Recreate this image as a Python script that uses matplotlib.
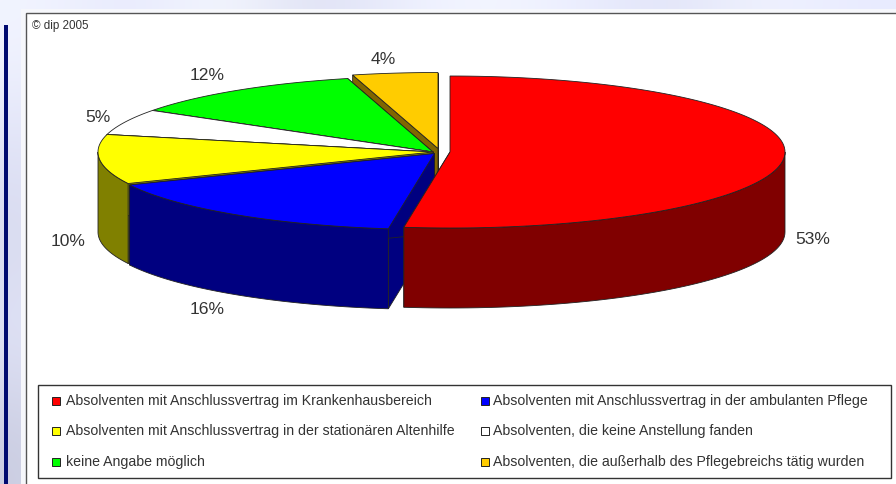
import numpy as np
import matplotlib
matplotlib.use('Agg')
import matplotlib.pyplot as plt
from matplotlib.patches import Polygon, Rectangle

plt.rcParams['font.family'] = ['Liberation Sans', 'DejaVu Sans']

shares = [52.2, 16.0, 10.5, 5.5, 11.7, 4.1]
pct_labels = ['53%', '16%', '10%', '5%', '12%', '4%']
top_colors = ['#ff0000', '#0000ff', '#ffff00', '#ffffff', '#00ff00', '#ffcc00']
side_colors = ['#800000', '#000080', '#808000', '#808080', '#008000', '#806600']
legend_labels = [
    'Absolventen mit Anschlussvertrag im Krankenhausbereich',
    'Absolventen mit Anschlussvertrag in der ambulanten Pflege',
    'Absolventen mit Anschlussvertrag in der stationären Altenhilfe',
    'Absolventen, die keine Anstellung fanden',
    'keine Angabe möglich',
    'Absolventen, die außerhalb des Pflegebreichs tätig wurden',
]

# pie geometry in pixels
rx, ry, depth = 335, 76, 80
centers = [(450, 152), (434.5, 153.5), (433, 152), (433, 152), (433, 152), (438, 148.5)]
label_pos = [(813, 239), (207, 309), (68, 242), (98, 117), (207, 76), (383, 59)]
draw_order = [5, 4, 3, 2, 1, 0]

fig = plt.figure(figsize=(8.96, 4.84), dpi=100)
ax = fig.add_axes([0, 0, 1, 1])

# slide background behind the chart
bg = np.array([[0.95, 0.90, 0.97, 0.86, 0.93, 0.96, 0.92, 0.88, 0.95, 0.91],
               [0.88, 0.90, 0.93, 0.96, 0.88, 0.92, 0.95, 0.90, 0.86, 0.93],
               [0.84, 0.93, 0.88, 0.92, 0.96, 0.87, 0.90, 0.94, 0.92, 0.88],
               [0.88, 0.93, 0.88, 0.92, 0.96, 0.87, 0.90, 0.94, 0.92, 0.88],
               [0.79, 0.93, 0.88, 0.92, 0.96, 0.87, 0.90, 0.94, 0.92, 0.88]])
bg_rgb = np.dstack([bg, bg + 0.01, np.minimum(bg + 0.09, 1)])
ax.imshow(bg_rgb, extent=[0, 896, 484, 0], aspect='auto', interpolation='bicubic', zorder=0)
ax.set_xlim(0, 896)
ax.set_ylim(484, 0)
ax.axis('off')
ax.add_patch(Rectangle((4, 25), 4, 459, fc='#000a70', ec='none', zorder=1))
ax.add_patch(Rectangle((21, 9), 880, 480, fc='#f6f7fb', ec='none', zorder=1))
ax.add_patch(Rectangle((26, 13), 880, 480, fc='white', ec='#555555', lw=1.0, zorder=1))

ax.text(32, 26, '© dip 2005', fontsize=8.4, color='#333333', va='center', zorder=5)


def rim(c, t):
    return np.column_stack([c[0] + rx * np.sin(t), c[1] - ry * np.cos(t)])


fractions = np.cumsum([0] + shares) / sum(shares) * 2 * np.pi
z = 2
for i in draw_order:
    a0, a1 = fractions[i], fractions[i + 1]
    c = centers[i]
    t = np.linspace(a0, a1, 120)
    arc = rim(c, t)
    low = np.array([0, depth])
    # the two cut faces
    for e in (arc[0], arc[-1]):
        face = [c, e, e + low, np.array(c) + low]
        ax.add_patch(Polygon(face, fc=side_colors[i], ec='#222222', lw=0.6, zorder=z))
        z += 0.01
    # outer wall, only the part facing the viewer
    t_front = t[(t >= np.pi / 2) & (t <= 3 * np.pi / 2)]
    if len(t_front) > 1:
        w = rim(c, t_front)
        ax.add_patch(Polygon(np.vstack([w, (w + low)[::-1]]), fc=side_colors[i], ec='#222222', lw=0.6, zorder=z))
        z += 0.01
    ax.add_patch(Polygon(np.vstack([[c], arc]), fc=top_colors[i], ec='#222222', lw=0.6, zorder=z))
    z += 0.01

for lab, (x, y) in zip(pct_labels, label_pos):
    ax.text(x, y, lab, fontsize=12.6, color='#333333', ha='center', va='center', zorder=5)

# legend box
ax.add_patch(Rectangle((38, 385), 853, 93, fc='white', ec='#333333', lw=1.0, zorder=4))
col_x = [52, 481]
row_y = [401, 431, 462]
for k, lab in enumerate(legend_labels):
    x = col_x[k % 2]
    y = row_y[k // 2]
    ax.add_patch(Rectangle((x, y - 4), 8, 8, fc=top_colors[k], ec='#222222', lw=0.7, zorder=5))
    ax.text(x + 14 if k % 2 == 0 else x + 12, y, lab, fontsize=10.2, color='#333333', va='center', zorder=5)

fig.savefig('out.png', dpi=100)
